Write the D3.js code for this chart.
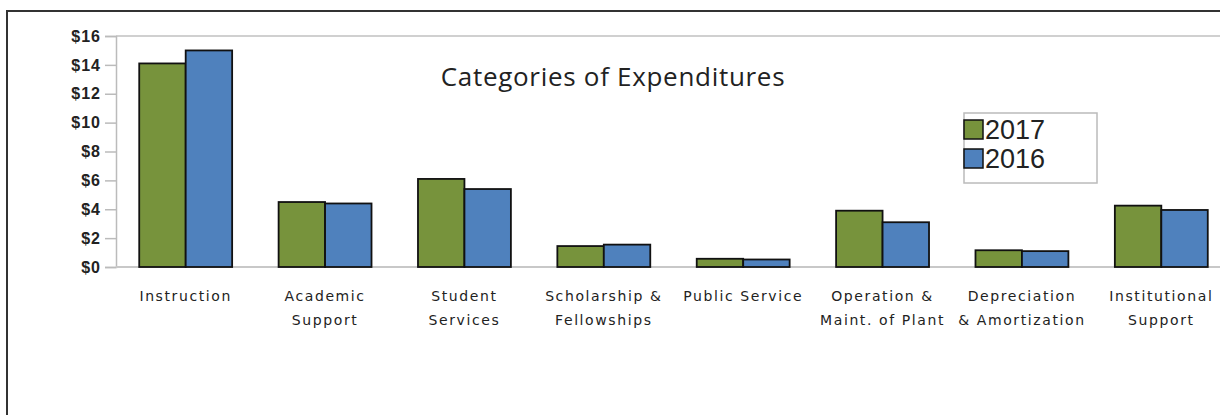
<!DOCTYPE html>
<html>
<head>
<meta charset="utf-8">
<script src="https://cdn.jsdelivr.net/npm/d3@7"></script>
<style>
  body { margin: 0; background: #fff; }
  svg { display: block; }
</style>
</head>
<body>
<div id="chart"></div>
<script>
const categories = [
    ["Instruction"],
    ["Academic", "Support"],
    ["Student", "Services"],
    ["Scholarship &", "Fellowships"],
    ["Public Service"],
    ["Operation &", "Maint. of Plant"],
    ["Depreciation", "& Amortization"],
    ["Institutional", "Support"]
];
const seriesNames = ["2017", "2016"];
const values2017 = [14.1, 4.5, 6.1, 1.45, 0.57, 3.9, 1.16, 4.25];
const values2016 = [15.0, 4.4, 5.4, 1.55, 0.52, 3.1, 1.1, 3.95];
const yTicks = [0, 2, 4, 6, 8, 10, 12, 14, 16];

const colors = { "2017": "#77933c", "2016": "#4f81bd" };

const W = 1220, H = 415;
const plot = { left: 116, right: 1231, top: 36, bottom: 267 };

const svg = d3.select("#chart").append("svg")
    .attr("width", W)
    .attr("height", H);

// outer frame (right and bottom fall outside the picture)
svg.append("rect")
    .attr("x", 7).attr("y", 11)
    .attr("width", W + 20).attr("height", H + 20)
    .attr("fill", "none")
    .attr("stroke", "#333")
    .attr("stroke-width", 2);

const keys = categories.map((c, i) => i);
const x0 = d3.scaleBand()
    .domain(keys)
    .range([plot.left, plot.right])
    .paddingInner(1 / 3)
    .paddingOuter(1 / 6);

const x1 = d3.scaleBand()
    .domain(seriesNames)
    .range([0, x0.bandwidth()]);

const y = d3.scaleLinear()
    .domain([0, 16])
    .range([plot.bottom, plot.top]);

// top gridline
svg.append("line")
    .attr("x1", plot.left).attr("x2", W)
    .attr("y1", y(16)).attr("y2", y(16))
    .attr("stroke", "#d0d0d0").attr("stroke-width", 2);

// y axis
const yAxis = svg.append("g")
    .attr("transform", `translate(${plot.left},0)`)
    .call(d3.axisLeft(y).tickValues(yTicks).tickSize(11).tickPadding(4).tickFormat(d => "$" + d));
yAxis.select(".domain").attr("stroke", "#bbb").attr("stroke-width", 1.5);
yAxis.selectAll(".tick line").attr("stroke", "#bbb").attr("stroke-width", 1.5);
yAxis.selectAll("text")
    .attr("fill", "#222")
    .style("font-family", "'Liberation Sans', Arial, sans-serif")
    .style("font-size", "16px")
    .style("letter-spacing", "1px")
    .style("font-weight", "bold");

// baseline
svg.append("line")
    .attr("x1", plot.left).attr("x2", W)
    .attr("y1", y(0)).attr("y2", y(0))
    .attr("stroke", "#c8c8c8").attr("stroke-width", 2);

// bars
const rows = keys.map(i => ({ i, vals: [
    { s: "2017", v: values2017[i] },
    { s: "2016", v: values2016[i] }
] }));

const groups = svg.selectAll(".grp")
    .data(rows)
    .enter().append("g")
    .attr("class", "grp")
    .attr("transform", d => `translate(${x0(d.i)},0)`);

groups.selectAll("rect")
    .data(d => d.vals)
    .enter().append("rect")
    .attr("x", d => x1(d.s))
    .attr("y", d => y(d.v))
    .attr("width", x1.bandwidth())
    .attr("height", d => y(0) - y(d.v))
    .attr("fill", d => colors[d.s])
    .attr("stroke", "#111")
    .attr("stroke-width", 1.8);

// category labels
const lab = svg.selectAll(".cat")
    .data(rows)
    .enter().append("text")
    .attr("class", "cat")
    .attr("x", d => x0(d.i) + x0.bandwidth() / 2)
    .attr("y", 301)
    .attr("text-anchor", "middle")
    .attr("fill", "#222")
    .style("font-family", "'DejaVu Sans', Verdana, sans-serif")
    .style("font-size", "14px")
    .style("letter-spacing", "1.6px");
lab.selectAll("tspan")
    .data(d => categories[d.i].map(t => ({ t, cx: x0(d.i) + x0.bandwidth() / 2 })))
    .enter().append("tspan")
    .attr("x", d => d.cx)
    .attr("dy", (d, j) => j === 0 ? 0 : 24)
    .text(d => d.t);

// title
svg.append("text")
    .attr("x", 613)
    .attr("y", 86)
    .attr("text-anchor", "middle")
    .attr("fill", "#222")
    .style("font-family", "'Open Sans', sans-serif")
    .style("font-size", "26px")
    .style("letter-spacing", "0.7px")
    .text("Categories of Expenditures");

// legend
const leg = svg.append("g").attr("transform", "translate(964,113)");
leg.append("rect")
    .attr("width", 133).attr("height", 70)
    .attr("fill", "#fff")
    .attr("stroke", "#bbb").attr("stroke-width", 1.5);
const li = leg.selectAll(".li")
    .data(seriesNames)
    .enter().append("g")
    .attr("transform", (d, i) => `translate(0,${7 + i * 29})`);
li.append("rect")
    .attr("width", 19).attr("height", 19)
    .attr("fill", d => colors[d])
    .attr("stroke", "#111").attr("stroke-width", 1.5);
li.append("text")
    .attr("x", 21).attr("y", 19)
    .attr("fill", "#222")
    .style("font-family", "'Liberation Sans', Arial, sans-serif")
    .style("font-size", "27px")
    .text(d => d);
</script>
</body>
</html>
